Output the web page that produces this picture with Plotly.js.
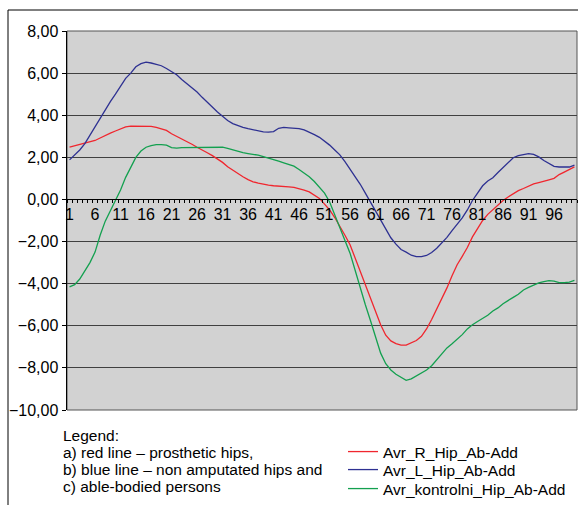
<!DOCTYPE html>
<html>
<head>
<meta charset="utf-8">
<script src="https://cdn.plot.ly/plotly-3.0.1.min.js"></script>
<style>
html,body{margin:0;padding:0;background:#fff;}
#chart{width:578px;height:505px;}
</style>
</head>
<body>
<div id="chart"></div>
<script>
var frames = [];
for (var i = 1; i <= 100; i++) frames.push(i);

var tickLabelsX = [1, 6, 11, 16, 21, 26, 31, 36, 41, 46, 51, 56, 61, 66, 71, 76, 81, 86, 91, 96];
var tickValsY = [-10, -8, -6, -4, -2, 0, 2, 4, 6, 8];

var seriesNames = ["Avr_R_Hip_Ab-Add", "Avr_L_Hip_Ab-Add", "Avr_kontrolni_Hip_Ab-Add"];

var avrR = [
  2.49, 2.55, 2.60, 2.66, 2.72, 2.80, 2.92, 3.05, 3.15, 3.25,
  3.35, 3.45, 3.48, 3.48, 3.48, 3.48, 3.47, 3.42, 3.36, 3.28,
  3.12, 3.00, 2.88, 2.76, 2.62, 2.48, 2.36, 2.22, 2.08, 1.92,
  1.76, 1.55, 1.38, 1.22, 1.08, 0.94, 0.84, 0.78, 0.72, 0.68,
  0.65, 0.64, 0.62, 0.60, 0.57, 0.52, 0.44, 0.36, 0.22, 0.05,
  -0.22, -0.50, -0.86, -1.25, -1.70, -2.15, -2.80, -3.45, -4.05, -4.70,
  -5.35, -5.95, -6.45, -6.72, -6.85, -6.92, -6.92, -6.82, -6.70, -6.50,
  -6.15, -5.70, -5.20, -4.75, -4.20, -3.62, -3.10, -2.70, -2.28, -1.78,
  -1.38, -1.00, -0.71, -0.48, -0.26, -0.05, 0.12, 0.28, 0.42, 0.52,
  0.64, 0.74, 0.80, 0.88, 0.93, 1.00, 1.18, 1.30, 1.42, 1.55
];

var avrL = [
  1.88, 2.10, 2.35, 2.65, 3.05, 3.45, 3.90, 4.30, 4.65, 5.00,
  5.35, 5.75, 6.00, 6.30, 6.45, 6.52, 6.48, 6.42, 6.35, 6.22,
  6.05, 5.92, 5.70, 5.50, 5.30, 5.10, 4.85, 4.60, 4.40, 4.15,
  3.95, 3.75, 3.60, 3.50, 3.42, 3.36, 3.30, 3.25, 3.21, 3.20,
  3.22, 3.38, 3.42, 3.40, 3.38, 3.36, 3.30, 3.20, 3.08, 2.95,
  2.78, 2.58, 2.35, 2.12, 1.80, 1.45, 1.10, 0.72, 0.30, -0.12,
  -0.55, -0.95, -1.40, -1.82, -2.12, -2.38, -2.50, -2.65, -2.72, -2.72,
  -2.66, -2.52, -2.32, -2.06, -1.80, -1.48, -1.20, -0.88, -0.50, -0.05,
  0.30, 0.65, 0.88, 1.03, 1.28, 1.50, 1.75, 1.98, 2.08, 2.14,
  2.18, 2.14, 2.02, 1.85, 1.70, 1.57, 1.54, 1.54, 1.54, 1.63
];

var avrKontrolni = [
  -4.15, -4.05, -3.78, -3.42, -3.00, -2.50, -1.70, -1.03, -0.55, -0.10,
  0.45, 1.05, 1.55, 2.00, 2.30, 2.48, 2.56, 2.60, 2.60, 2.58,
  2.46, 2.44, 2.46, 2.46, 2.46, 2.47, 2.49, 2.49, 2.49, 2.49,
  2.48, 2.42, 2.35, 2.28, 2.22, 2.18, 2.15, 2.10, 2.03, 1.97,
  1.88, 1.82, 1.74, 1.65, 1.58, 1.42, 1.25, 1.08, 0.85, 0.60,
  0.30, -0.12, -0.70, -1.35, -1.95, -2.55, -3.40, -4.25, -5.00, -5.75,
  -6.55, -7.30, -7.80, -8.10, -8.30, -8.45, -8.59, -8.52, -8.38, -8.25,
  -8.10, -7.90, -7.62, -7.35, -7.05, -6.85, -6.65, -6.42, -6.15, -5.95,
  -5.80, -5.65, -5.50, -5.30, -5.15, -4.95, -4.78, -4.65, -4.50, -4.30,
  -4.18, -4.05, -3.96, -3.90, -3.86, -3.88, -3.95, -3.95, -3.93, -3.84
];

var legendNotes = [
  "Legend:",
  "a) red line \u2013 prosthetic hips,",
  "b) blue line \u2013 non amputated hips and",
  "c) able-bodied persons"
];

var colors = ["#f0262e", "#2e3192", "#13a04f"];
var FONT = "'Liberation Sans', Arial, sans-serif";

// plot area pixels: x 67..577, y 31..410
var W = 510, H = 379, L = 67, T = 31;
function px(x) { return (x - L) / W; }
function py(y) { return (T + H - y) / H; }

var legendIds = ["legend", "legend2", "legend3"];
var legendRowY = [452, 470, 489];

var traces = [avrR, avrL, avrKontrolni].map(function (vals, k) {
  return {
    type: "scatter",
    mode: "lines",
    x: frames,
    y: vals,
    name: seriesNames[k],
    legend: legendIds[k],
    line: {color: colors[k], width: 1.3}
  };
});

var noteY = [435, 452, 469, 486];
var annotations = legendNotes.map(function (t, k) {
  return {
    text: t, xref: "paper", yref: "paper",
    x: px(61), y: py(noteY[k]), xanchor: "left", yanchor: "middle",
    showarrow: false, font: {family: FONT, size: 15.5, color: "#000"}
  };
});

var layout = {
  width: 578, height: 505,
  margin: {l: 67, r: 1, t: 31, b: 95, pad: 0, autoexpand: false},
  paper_bgcolor: "#ffffff",
  plot_bgcolor: "#d2d2d2",
  separators: ", ",
  font: {family: FONT, color: "#000"},
  showlegend: true,
  xaxis: {
    range: [0.5, 100.5],
    anchor: "free", position: 10 / 18,
    tickmode: "array", tickvals: tickLabelsX, ticktext: tickLabelsX.map(String),
    ticks: "outside", ticklen: 0, tickcolor: "rgba(0,0,0,0)",
    minor: {tick0: 0.5, dtick: 1, ticks: "outside", ticklen: 3, tickcolor: "#000", showgrid: false},
    showgrid: false, zeroline: false,
    showline: true, linecolor: "#000", linewidth: 1,
    tickfont: {family: FONT, size: 16, color: "#000"}
  },
  yaxis: {
    range: [-10, 8],
    tickmode: "array", tickvals: tickValsY, tickformat: ".2f",
    ticks: "outside", ticklen: 4, tickcolor: "#000",
    showgrid: true, gridcolor: "#404040", gridwidth: 1,
    zeroline: false,
    showline: true, linecolor: "#000", linewidth: 1.5,
    tickfont: {family: FONT, size: 16, color: "#000"}
  },
  annotations: annotations,
  shapes: [
    {type: "rect", xref: "paper", yref: "paper", x0: 0, x1: 1, y0: 0, y1: 1,
     line: {color: "#555", width: 1}, layer: "below"},
    {type: "line", xref: "paper", yref: "paper", x0: px(8), x1: px(8), y0: py(10), y1: py(510),
     line: {color: "#000", width: 1}},
    {type: "line", xref: "paper", yref: "paper", x0: px(8), x1: px(590), y0: py(10), y1: py(10),
     line: {color: "#000", width: 1}}
  ]
};

legendIds.forEach(function (id, k) {
  layout[id] = {
    x: px(343), y: py(legendRowY[k]), xanchor: "left", yanchor: "middle",
    bgcolor: "rgba(0,0,0,0)", borderwidth: 0,
    font: {family: FONT, size: 15.5, color: "#000"},
    tracegroupgap: 0, itemwidth: 30
  };
});

Plotly.newPlot("chart", traces, layout, {displayModeBar: false, staticPlot: true});
</script>
</body>
</html>
